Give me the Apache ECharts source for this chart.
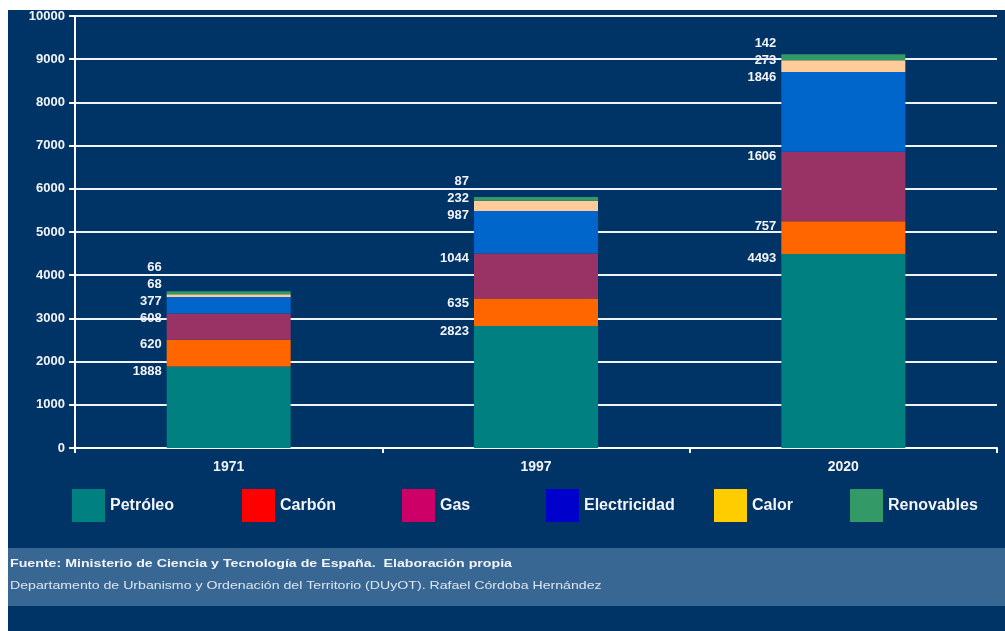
<!DOCTYPE html>
<html>
<head>
<meta charset="utf-8">
<script src="https://cdn.jsdelivr.net/npm/echarts@6/dist/echarts.min.js"></script>
<style>
html,body{margin:0;padding:0;background:#ffffff;}
#c{position:absolute;left:0;top:0;width:1005px;height:631px;}
</style>
</head>
<body>
<div id="c"></div>
<script>
const categories = ['1971', '1997', '2020'];
const seriesNames = ['Petróleo', 'Carbón', 'Gas', 'Electricidad', 'Calor', 'Renovables'];
const petroleo = [1888, 2823, 4493];
const carbon = [620, 635, 757];
const gas = [608, 1044, 1606];
const electricidad = [377, 987, 1846];
const calor = [68, 232, 273];
const renovables = [66, 87, 142];
const yTicks = [0, 1000, 2000, 3000, 4000, 5000, 6000, 7000, 8000, 9000, 10000];

const values = [petroleo, carbon, gas, electricidad, calor, renovables];
const barColors = ['#008080', '#ff6600', '#993366', '#0066cc', '#ffcc99', '#339966'];
const legendColors = ['#008080', '#ff0000', '#cc0066', '#0000cc', '#ffcc00', '#339966'];
const legendLeft = [72, 242, 402, 546, 714, 850];

const FONT = '"Liberation Sans", Arial, sans-serif';
const TXT = '#f2f4f7';

const chart = echarts.init(document.getElementById('c'), null, {renderer: 'canvas'});

// label stacking helper: labels placed near the top of each segment, pushed up to avoid overlap
const prevCenter = {};
const GAP = 17;
function layoutLabel(params) {
  const r = params.rect;
  const top = Math.min(r.y, r.y + r.height);
  const key = params.dataIndex;
  if (params.seriesIndex === 0) prevCenter[key] = Infinity;
  let c = top + 5;
  if (c > prevCenter[key] - GAP) c = prevCenter[key] - GAP;
  prevCenter[key] = c;
  return {x: r.x - 5, y: c, align: 'right', verticalAlign: 'middle'};
}

const series = seriesNames.map((name, i) => ({
  name: name,
  type: 'bar',
  stack: 'total',
  barWidth: 124,
  data: values[i],
  itemStyle: {color: barColors[i]},
  label: {
    show: true,
    position: 'left',
    color: TXT,
    fontFamily: FONT,
    fontWeight: 'bold',
    fontSize: 13
  },
  labelLayout: layoutLabel
}));

const legends = seriesNames.map((name, i) => ({
  data: [{name: name, itemStyle: {color: legendColors[i]}}],
  left: legendLeft[i],
  top: 489,
  padding: 0,
  icon: 'rect',
  itemWidth: 33,
  itemHeight: 33,
  itemGap: 5,
  selectedMode: false,
  textStyle: {color: TXT, fontFamily: FONT, fontWeight: 'bold', fontSize: 16}
}));

chart.setOption({
  animation: false,
  graphic: [
    {type: 'rect', z: -10, silent: true, shape: {x: 8, y: 10, width: 997, height: 621}, style: {fill: '#003366'}},
    {type: 'rect', z: -9, silent: true, shape: {x: 8, y: 548, width: 997, height: 58}, style: {fill: '#386794'}},
    {type: 'text', x: 10, y: 558, scaleX: 1.29, z: 10, style: {text: 'Fuente: Ministerio de Ciencia y Tecnología de España.  Elaboración propia', fill: TXT, font: 'bold 11px ' + FONT}},
    {type: 'text', x: 10, y: 580, scaleX: 1.285, z: 10, style: {text: 'Departamento de Urbanismo y Ordenación del Territorio (DUyOT). Rafael Córdoba Hernández', fill: '#dde6ef', font: '11px ' + FONT}}
  ],
  legend: legends,
  grid: {left: 75, right: 8, top: 16, bottom: 183, containLabel: false},
  xAxis: {
    type: 'category',
    data: categories,
    axisLine: {lineStyle: {color: '#ffffff', width: 2}},
    axisTick: {show: true, length: 5, lineStyle: {color: '#ffffff', width: 2}},
    axisLabel: {color: TXT, fontFamily: FONT, fontWeight: 'bold', fontSize: 14, margin: 12}
  },
  yAxis: {
    type: 'value',
    min: yTicks[0],
    max: yTicks[yTicks.length - 1],
    interval: yTicks[1] - yTicks[0],
    axisLine: {show: true, lineStyle: {color: '#ffffff', width: 2}},
    axisTick: {show: true, length: 6, lineStyle: {color: '#ffffff', width: 2}},
    splitLine: {lineStyle: {color: '#eef4fa', width: 2}},
    axisLabel: {color: TXT, fontFamily: FONT, fontWeight: 'bold', fontSize: 13, margin: 10, formatter: v => String(v)}
  },
  series: series
});
</script>
</body>
</html>
